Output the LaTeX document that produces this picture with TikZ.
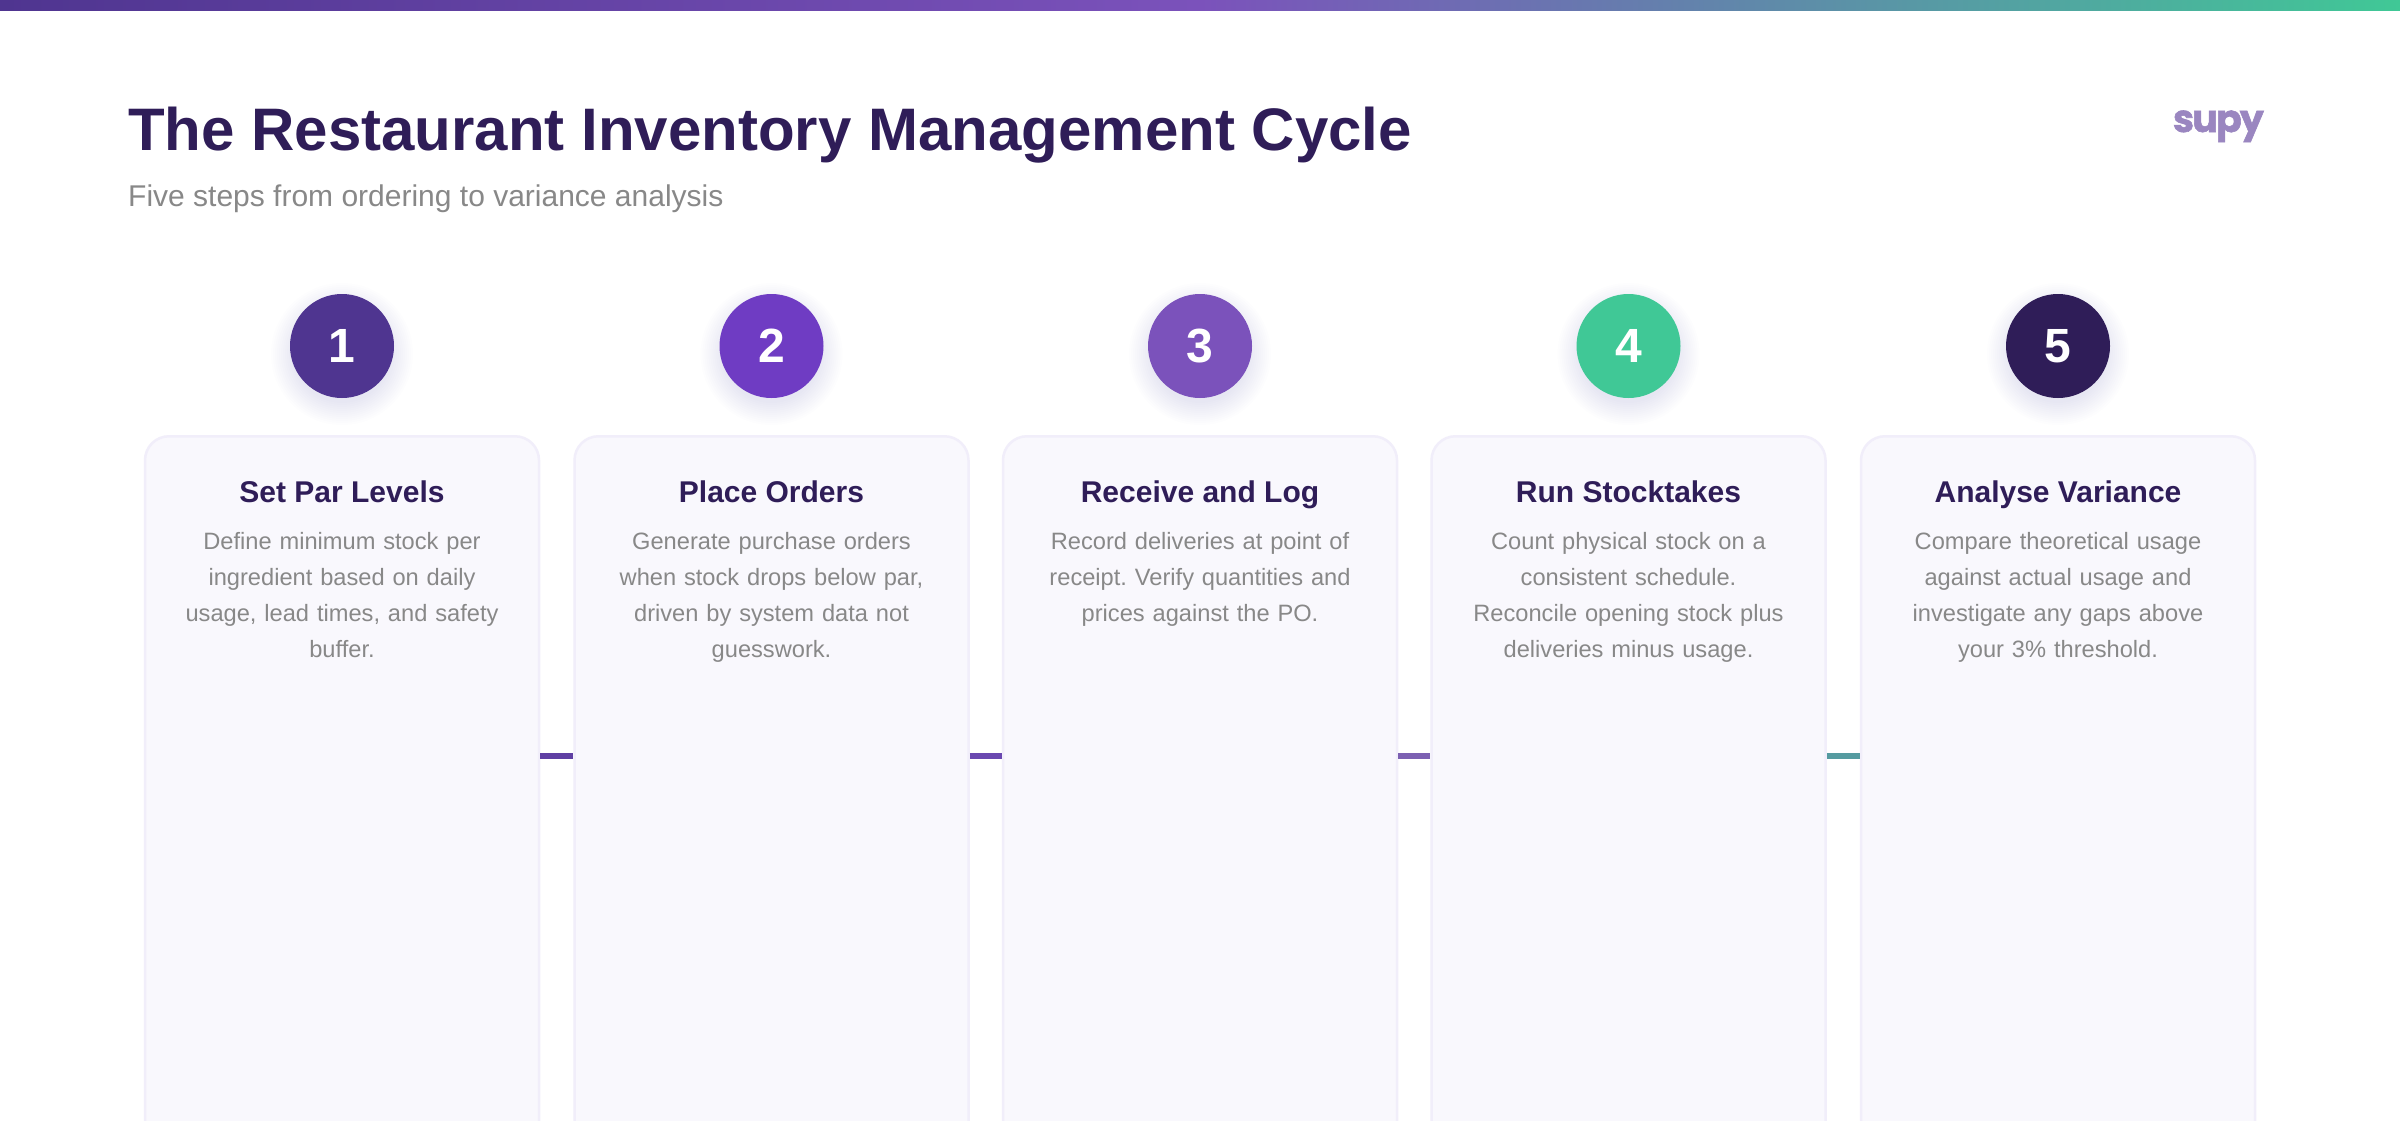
\documentclass[tikz,border=0pt]{standalone}
\usepackage{fontspec}
\setmainfont{Liberation Sans}
\newfontfamily\logofont[BoldFeatures={FakeBold=1.5},LetterSpace=-5]{Poppins}
\definecolor{ink}{HTML}{2F1D58}
\definecolor{grayt}{HTML}{888888}
\definecolor{cOne}{HTML}{4F3590}
\definecolor{cTwo}{HTML}{6F3CC3}
\definecolor{cThree}{HTML}{7B52BB}
\definecolor{cFour}{HTML}{40C896}
\definecolor{cFive}{HTML}{2F1D58}
\definecolor{cardfill}{HTML}{F9F8FD}
\definecolor{cardline}{HTML}{F1EEFA}
\definecolor{logoc}{HTML}{9A86C0}
\definecolor{lkA}{HTML}{5F3FA3}
\definecolor{lkB}{HTML}{6A48B0}
\definecolor{lkC}{HTML}{7C60B2}
\definecolor{lkD}{HTML}{559BA0}
\tikzset{
  x=1pt,y=-1pt,
  cardbox/.style={draw=cardline,line width=2.5pt,fill=cardfill,rounded corners=24pt,minimum width=394pt,minimum height=800pt,inner sep=0pt,anchor=north},
  stepcircle/.style={circle,minimum size=104pt,inner sep=0pt,text=white,font=\fontsize{48}{48}\selectfont\bfseries},
  cardtitle/.style={text=ink,font=\fontsize{30}{36}\selectfont\bfseries,anchor=base,inner sep=0pt},
  carddesc/.style={text=grayt,font=\fontsize{23.65}{36}\selectfont\frenchspacing,align=center,anchor=north,inner sep=0pt,text width=380pt},
  link/.style={line width=6pt},
}
\newcommand{\stepcard}[6]{%
  % #1 index, #2 centre x, #3 colour, #4 number, #5 title, #6 text
  \foreach \r in {1,3,...,23}{\fill[cOne,opacity=0.006] (#2,354) circle[radius=48+\r];}
  \node[stepcircle,fill=#3] (n#1) at (#2,346) {#4};
  \node[cardbox] (c#1) at (#2,435) {};
  \node[cardtitle] (t#1) at (#2,502) {#5};
  \node[carddesc] (d#1) at (#2,532) {#6};
}
\begin{document}
\begin{tikzpicture}
\clip (0,0) rectangle (2400,1120);
\fill[white] (0,0) rectangle (2400,1120);
\shade[left color=cOne,right color=cThree] (0,0) rectangle (1200,10);
\shade[left color=cThree,right color=cFour] (1200,0) rectangle (2400,10);
\node[anchor=base west,inner sep=0pt,text=ink,font=\fontsize{60}{60}\selectfont\bfseries] (title) at (128,150) {The Restaurant Inventory Management Cycle};
\node[anchor=base west,inner sep=0pt,text=grayt,font=\fontsize{30}{30}\selectfont] (sub) at (128,206) {Five steps from ordering to variance analysis};
\node[anchor=base east,inner sep=0pt,text=logoc,font=\fontsize{38}{38}\logofont\bfseries\selectfont] (logo) at (2264,132) {supy};
\stepcard{1}{342}{cOne}{1}{Set Par Levels}{Define minimum stock per\\ingredient based on daily\\usage, lead times, and safety\\buffer.}
\stepcard{2}{771.5}{cTwo}{2}{Place Orders}{Generate purchase orders\\when stock drops below par,\\driven by system data not\\guesswork.}
\stepcard{3}{1200}{cThree}{3}{Receive and Log}{Record deliveries at point of\\receipt. Verify quantities and\\prices against the PO.}
\stepcard{4}{1628.5}{cFour}{4}{Run Stocktakes}{Count physical stock on a\\consistent schedule.\\Reconcile opening stock plus\\deliveries minus usage.}
\stepcard{5}{2058}{cFive}{5}{Analyse Variance}{Compare theoretical usage\\against actual usage and\\investigate any gaps above\\your 3\% threshold.}
\coordinate (ly) at (0,756);
\draw[link,draw=lkA] (c1.east |- ly) -- (c2.west |- ly);
\draw[link,draw=lkB] (c2.east |- ly) -- (c3.west |- ly);
\draw[link,draw=lkC] (c3.east |- ly) -- (c4.west |- ly);
\draw[link,draw=lkD] (c4.east |- ly) -- (c5.west |- ly);
\end{tikzpicture}
\end{document}
